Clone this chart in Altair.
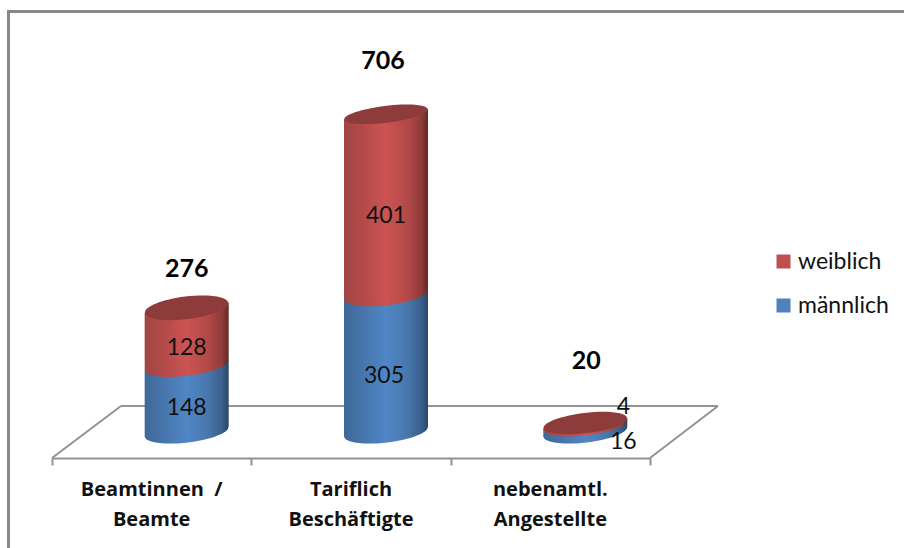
import altair as alt
import pandas as pd

# Staff counts per employment group
categories = ["Beamtinnen\u00a0\u00a0/\nBeamte", "Tariflich\nBeschäftigte", "nebenamtl.\nAngestellte"]
maennlich = [148, 305, 16]
weiblich = [128, 401, 4]
totals = [276, 706, 20]

# Canvas layout in pixels
W, H = 904, 548
AXIS_Y = 458
BASE_Y = 432
PX_PER_UNIT = 0.45
X_RANGE = [52, 650]
DEPTH_SHIFT = 0.1756   # cylinders stand further back than the axis
HALF_WIDTH = 0.2107
TILT = 11              # end-cap tilt, in value units

x_scale = alt.Scale(domain=[0, 3], range=X_RANGE, nice=False, zero=False)
y_scale = alt.Scale(domain=[0, BASE_Y / PX_PER_UNIT], range=[BASE_Y, 0], nice=False, zero=False)

# Front edge of the floor carries the category ticks
floor_axis = alt.Axis(
    values=[0, 1, 2, 3], labels=False, title=None, grid=False,
    domainColor="#939393", domainWidth=2, tickColor="#939393", tickWidth=2,
    tickSize=7, offset=AXIS_Y - H,
)
x_enc = alt.X("x:Q", scale=x_scale, axis=floor_axis)
y_enc = alt.Y("y:Q", scale=y_scale, axis=None, stack=None)


def horizontal(stops):
    return alt.Gradient(
        gradient="linear", x1=0, x2=1, y1=0, y2=0,
        stops=[alt.GradientStop(offset=o, color=c) for o, c in stops],
    )


def ellipse(ratio):
    return f"M-1,0A1,{ratio},0,1,1,1,0A1,{ratio},0,1,1,-1,0Z"


BLUE = horizontal([(0, "#3f6898"), (0.25, "#4877ae"), (0.5, "#5086c6"),
                   (0.75, "#4877ac"), (0.92, "#3a5f8b"), (1, "#2a466a")])
RED = horizontal([(0, "#a04543"), (0.25, "#b64b49"), (0.5, "#cb5452"),
                  (0.75, "#b34947"), (0.92, "#8f3c3a"), (1, "#632826")])
CAP = "#8e3c3b"
RING_SHAPE = ellipse(0.25)
CAP_RATIOS = (0.27, 0.2, 0.24)   # the lid flattens with the viewing angle
CAP_SIZE = 84 ** 2

segments, rings = [], []
for i, (m, f) in enumerate(zip(maennlich, weiblich)):
    cx = i + 0.5 + DEPTH_SHIFT
    for name, lo, hi in (("männlich", 0, m), ("weiblich", m, m + f)):
        key = f"{i}-{name}"
        segments.append(dict(key=key, s=name, x=cx - HALF_WIDTH, y=lo - TILT, y2=hi - TILT))
        segments.append(dict(key=key, s=name, x=cx + HALF_WIDTH, y=lo + TILT, y2=hi + TILT))
        rings.append(dict(s=name, x=cx, y=lo))
segments = pd.DataFrame(segments)
rings = pd.DataFrame(rings)

layers = []


def rule(x, x2, y, y2, width=2, color="#939393"):
    return alt.Chart(pd.DataFrame({"a": [0]})).mark_rule(color=color, strokeWidth=width).encode(
        x=alt.value(x), x2=alt.value(x2), y=alt.value(y), y2=alt.value(y2))


# Chart frame and the floor of the 3D plot
layers += [
    rule(8.5, 8.5, 10, H, 3, "#888888"),
    rule(8, W, 11.5, 11.5, 3, "#888888"),
    rule(121, 718, 406, 406),
    rule(52, 121, AXIS_Y, 406),
    rule(650, 718, AXIS_Y, 406),
]

for name, fill in (("männlich", BLUE), ("weiblich", RED)):
    layers.append(
        alt.Chart(rings[rings.s == name]).mark_point(
            shape=RING_SHAPE, size=CAP_SIZE, angle=353, filled=True, fill=fill, opacity=1, strokeWidth=0,
        ).encode(x=x_enc, y=y_enc)
    )
    layers.append(
        alt.Chart(segments[segments.s == name]).mark_area(color=fill, opacity=1).encode(
            x=x_enc, y=y_enc, y2="y2:Q", detail="key:N")
    )

for i, (t, ratio) in enumerate(zip(totals, CAP_RATIOS)):
    layers.append(
        alt.Chart(pd.DataFrame({"x": [i + 0.5 + DEPTH_SHIFT], "y": [t]})).mark_point(
            shape=ellipse(ratio), size=CAP_SIZE, angle=353, filled=True, fill=CAP, opacity=1, strokeWidth=0,
        ).encode(x=x_enc, y=y_enc)
    )

# Segment values, placed on the cylinder fronts; the small column's sit beside it
TEXT = "#111111"
BODY_FONT = "Lato"
LOWER_NUDGE = ((0, 9), (-2, 13), (38, 14))
UPPER_NUDGE = ((0, 11), (0, 11), (38, -17))
labels = []
for i, (m, f) in enumerate(zip(maennlich, weiblich)):
    cx = i + 0.5 + DEPTH_SHIFT
    labels.append(dict(x=cx, y=m / 2, t=str(m), dx=LOWER_NUDGE[i][0], dy=LOWER_NUDGE[i][1]))
    labels.append(dict(x=cx, y=m + f / 2, t=str(f), dx=UPPER_NUDGE[i][0], dy=UPPER_NUDGE[i][1]))
for row in labels:
    layers.append(
        alt.Chart(pd.DataFrame([row])).mark_text(
            font=BODY_FONT, fontSize=23, color=TEXT, dx=row["dx"], dy=row["dy"], baseline="middle",
        ).encode(x=x_enc, y=y_enc, text="t:N")
    )

# Column totals float above each cylinder
for i, (t, lift, dx) in enumerate(zip(totals, (39, 53, 62), (0, -3, 1))):
    layers.append(
        alt.Chart(pd.DataFrame({"x": [i + 0.5 + DEPTH_SHIFT], "y": [t], "t": [str(t)]})).mark_text(
            font=BODY_FONT, fontSize=25, fontWeight="bold", color="#000000", dx=dx, dy=-lift, baseline="middle",
        ).encode(x=x_enc, y=y_enc, text="t:N")
    )

# Category names under the floor
for i, c in enumerate(categories):
    layers.append(
        alt.Chart(pd.DataFrame({"x": [i + 0.5], "t": [c]})).mark_text(
            font="Open Sans", fontSize=20, fontWeight="bold", color="#111111",
            lineBreak="\n", lineHeight=30, baseline="middle",
        ).encode(x=x_enc, y=alt.value(490), text="t:N")
    )

# Legend of the two series
legend_df = pd.DataFrame({"s": ["weiblich", "männlich"], "x": [0, 0], "y": [0, 0]})
layers.append(
    alt.Chart(legend_df).mark_point(filled=True, size=0, opacity=0).encode(
        x=x_enc, y=y_enc,
        color=alt.Color("s:N", scale=alt.Scale(domain=["weiblich", "männlich"], range=["#c0504d", "#4f81bd"]),
                        legend=alt.Legend(
                            title=None, orient="none", legendX=772, legendY=250,
                            symbolType="square", symbolSize=196, symbolOpacity=1, symbolStrokeWidth=0,
                            labelFont=BODY_FONT, labelFontSize=23, labelColor="#111111",
                            rowPadding=20, labelOffset=3)),
    )
)

chart = alt.layer(*layers).resolve_scale(color="independent").properties(
    width=W, height=H, padding=0, autosize=alt.AutoSizeParams(type="none"), background="white",
).configure_view(stroke=None)

chart.save("out.html", embed_options={"renderer": "svg", "actions": False})
